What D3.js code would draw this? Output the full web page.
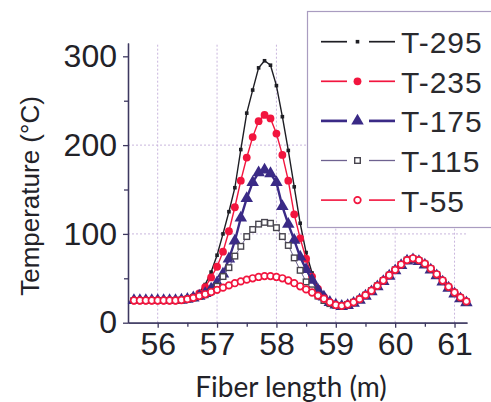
<!DOCTYPE html>
<html>
<head>
<meta charset="utf-8">
<script src="https://d3js.org/d3.v7.min.js"></script>
<style>
  body { margin: 0; background: #fff; }
  .tick text { font-family: "Liberation Sans", Arial, sans-serif; font-size: 32px; fill: #222228; }
  .axis path, .axis line { stroke: #3d3860; stroke-width: 1.3; }
  .grid line { stroke: #c9b6dd; stroke-dasharray: 2 2; stroke-width: 1; }
  .legend text { font-family: "Liberation Sans", Arial, sans-serif; font-size: 30px; fill: #2a2a2e; letter-spacing: 1px; }
</style>
</head>
<body>
<div id="chart"></div>
<script>
// fiber position (m)
const fiberLength = [55.6, 55.7, 55.8, 55.9, 56.0, 56.1, 56.2, 56.3, 56.4, 56.5,
  56.6, 56.7, 56.8, 56.9, 57.0, 57.1, 57.2, 57.3, 57.4, 57.5,
  57.6, 57.7, 57.8, 57.9, 58.0, 58.1, 58.2, 58.3, 58.4, 58.5,
  58.6, 58.7, 58.8, 58.9, 59.0, 59.1, 59.2, 59.3, 59.4, 59.5,
  59.6, 59.7, 59.8, 59.9, 60.0, 60.1, 60.2, 60.3, 60.4, 60.5,
  60.6, 60.7, 60.8, 60.9, 61.0, 61.1, 61.2];

// temperature (°C) per series
const t295 = [25, 25, 25, 25, 25, 25, 25, 25, 25.5, 27,
  29, 34, 43, 57, 76, 100, 125, 152, 195, 236,
  262, 287, 295, 290, 267, 232, 194, 153, 112, 79,
  56, 40, 30, 23, 20, 19, 20.5, 23, 26.5, 31,
  36, 41.5, 47.5, 53.5, 59.5, 65.5, 70.5, 72, 70, 66,
  60.5, 54, 47, 40, 33.5, 28, 23.5];
const t235 = [25, 25, 25, 25, 25, 25, 25, 25, 25.5, 27,
  29, 33, 40, 51, 63, 80, 103, 130, 160, 186,
  209, 227, 234, 230, 213, 189, 160, 122, 95, 72,
  52, 38, 29, 22.5, 20, 19, 20.5, 23, 26.5, 31,
  36, 41.5, 47.5, 53.5, 59.5, 65.5, 70.5, 72, 70, 66,
  60.5, 54, 47, 40, 33.5, 28, 23.5];
const t175 = [25, 25, 25, 25, 25, 25, 25, 25, 25.5, 26.5,
  28, 30, 33, 38, 45, 55, 72, 92, 118, 140,
  158, 169, 172, 168, 158, 131, 111, 93, 74, 60,
  48, 37, 29, 23, 20, 18.5, 19.5, 22, 25.5, 30,
  35, 40.5, 46.5, 52.5, 58.5, 64.5, 69.5, 71, 69, 65,
  59.5, 53, 46, 39, 32.5, 27, 22.5];
const t115 = [25, 25, 25, 25, 25, 25, 25, 25, 25.5, 26.5,
  28, 29.5, 31.5, 35, 41, 52, 62, 75, 86, 97,
  105, 111, 113, 112, 107, 97, 87, 73, 59, 46,
  37, 30, 25, 21.5, 19.5, 19, 20.5, 23, 26.5, 31,
  36, 41.5, 47.5, 53.5, 59.5, 65.5, 70.5, 72, 70, 66,
  60.5, 54, 47, 40, 33.5, 28, 23.5];
const t55 = [25, 25, 25, 25, 25, 25, 25, 25, 25.5, 26.5,
  28, 30, 32, 34.5, 37, 39.5, 42, 44.5, 46.5, 48.5,
  50, 51.5, 52.5, 52.5, 51.5, 50, 47.5, 44.5, 41, 37.5,
  34, 30.5, 27, 23, 20, 19, 20.5, 23, 26.5, 31,
  36, 41.5, 47.5, 53.5, 59.5, 65.5, 70.5, 72.5, 70.5, 66.5,
  61, 54.5, 47.5, 40.5, 34, 28.5, 24];

const seriesNames = ["T-295", "T-235", "T-175", "T-115", "T-55"];
const xTicks = [56, 57, 58, 59, 60, 61];
const yTicks = [0, 100, 200, 300];

const series = [
  { name: seriesNames[0], values: t295, color: "#1e1e24", width: 1.4, marker: "square", fill: "#1e1e24", stroke: "none", size: 3.6 },
  { name: seriesNames[1], values: t235, color: "#f2153e", width: 1.4, marker: "circle", fill: "#f2153e", stroke: "none", size: 3.9 },
  { name: seriesNames[2], values: t175, color: "#3a2a86", width: 2.4, marker: "triangle", fill: "#3a2a86", stroke: "none", size: 9.5 },
  { name: seriesNames[3], values: t115, color: "#6e6290", width: 1, marker: "osquare", fill: "#fff", stroke: "#48454f", size: 5.6 },
  { name: seriesNames[4], values: t55, color: "#f2153e", width: 1.3, marker: "ocircle", fill: "#fff", stroke: "#f2153e", size: 3.3 }
];

const W = 491, H = 402;
const svg = d3.select("#chart").append("svg")
  .attr("width", W).attr("height", H);

const x = d3.scaleLinear().domain([55.5, 61.21]).range([128, 467]);
const y = d3.scaleLinear().domain([0, 315]).range([322.7, 43]);

// grid
const grid = svg.append("g").attr("class", "grid");
grid.selectAll(".vg").data(xTicks).join("line")
  .attr("x1", d => x(d)).attr("x2", d => x(d))
  .attr("y1", y(0)).attr("y2", y(315));
grid.selectAll(".hg").data([100, 200]).join("line")
  .attr("x1", x(55.5)).attr("x2", x(61.21))
  .attr("y1", d => y(d)).attr("y2", d => y(d));

// axes
svg.append("g").attr("class", "axis")
  .attr("transform", `translate(0,${y(0)})`)
  .call(d3.axisBottom(x).tickValues([56.5, 57.5, 58.5, 59.5, 60.5]).tickSize(4).tickSizeOuter(0).tickFormat(""));
svg.append("g").attr("class", "axis")
  .attr("transform", `translate(0,${y(0)})`)
  .call(d3.axisBottom(x).tickValues(xTicks).tickSize(5).tickSizeOuter(0).tickPadding(5).tickFormat(d3.format("d")));

svg.append("g").attr("class", "axis")
  .attr("transform", `translate(${x(55.5)},0)`)
  .call(d3.axisLeft(y).tickValues([50, 150, 250]).tickSize(4).tickSizeOuter(0).tickFormat(""));
svg.append("g").attr("class", "axis")
  .attr("transform", `translate(${x(55.5)},0)`)
  .call(d3.axisLeft(y).tickValues(yTicks).tickSize(5).tickSizeOuter(0).tickPadding(6));

// axis titles
svg.append("text")
  .attr("transform", `translate(39,196) rotate(-90)`)
  .attr("text-anchor", "middle")
  .style("font-family", "'Liberation Sans', Arial, sans-serif")
  .style("font-size", "26px")
  .style("fill", "#222228")
  .text("Temperature (°C)");

svg.append("text")
  .attr("x", 291).attr("y", 397)
  .attr("text-anchor", "middle")
  .style("font-family", "Lato, 'Open Sans', sans-serif")
  .style("font-size", "28px")
  .style("fill", "#222228")
  .text("Fiber length (m)");

function drawMarker(g, s, cx, cy) {
  if (s.marker === "circle" || s.marker === "ocircle") {
    g.append("circle").attr("cx", cx).attr("cy", cy).attr("r", s.size)
      .attr("fill", s.fill).attr("stroke", s.stroke).attr("stroke-width", 1.7);
  } else if (s.marker === "triangle") {
    g.append("path")
      .attr("d", d3.symbol(d3.symbolTriangle, s.size * s.size * 0.75)())
      .attr("transform", `translate(${cx},${cy})`)
      .attr("fill", s.fill);
  } else {
    g.append("rect").attr("x", cx - s.size / 2).attr("y", cy - s.size / 2)
      .attr("width", s.size).attr("height", s.size)
      .attr("fill", s.fill).attr("stroke", s.stroke).attr("stroke-width", 1.4);
  }
}

// lines + markers
const line = d3.line().x((d, i) => x(fiberLength[i])).y(d => y(d));
series.forEach(s => {
  const g = svg.append("g");
  g.append("path").datum(s.values)
    .attr("fill", "none").attr("stroke", s.color).attr("stroke-width", s.width)
    .attr("d", line);
  s.values.forEach((v, i) => drawMarker(g, s, x(fiberLength[i]), y(v)));
});

// legend
const legend = svg.append("g").attr("class", "legend");
legend.append("rect")
  .attr("x", 307.5).attr("y", 11.5).attr("width", 200).attr("height", 216)
  .attr("fill", "#fff").attr("stroke", "#a99cc0").attr("stroke-width", 1.2);
series.forEach((s, i) => {
  const cy = 41.7 + i * 39.6;
  const g = legend.append("g");
  g.append("line").attr("x1", 321).attr("x2", 347).attr("y1", cy).attr("y2", cy)
    .attr("stroke", s.color).attr("stroke-width", s.width + 0.3);
  g.append("line").attr("x1", 369).attr("x2", 395).attr("y1", cy).attr("y2", cy)
    .attr("stroke", s.color).attr("stroke-width", s.width + 0.3);
  drawMarker(g, s, 357.5, cy);
  g.append("text").attr("x", 401).attr("y", cy + 11.5).text(s.name);
});
</script>
</body>
</html>
